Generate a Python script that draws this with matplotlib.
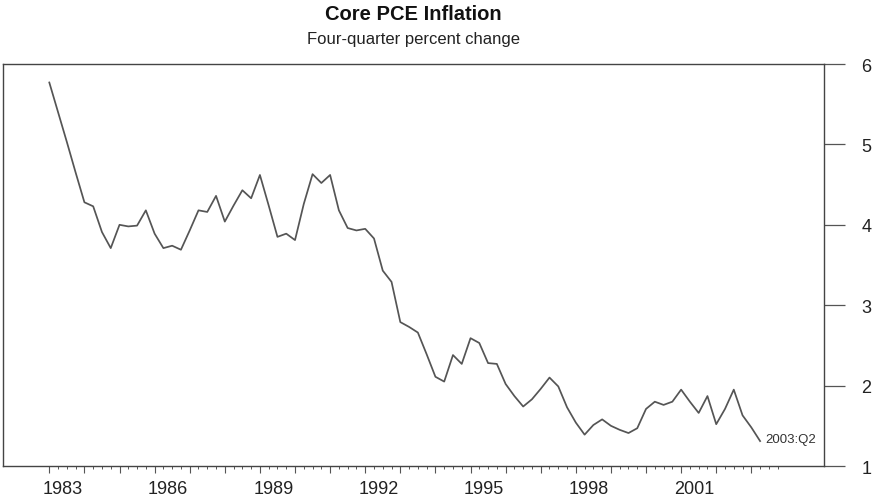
"""
Core PCE inflation, four-quarter percent change, 1983:Q1 - 2003:Q2
"""
import numpy as np
import matplotlib
matplotlib.use("Agg")
import matplotlib.pyplot as plt
from matplotlib.ticker import FixedLocator, NullFormatter

plt.rcParams['font.family'] = ['Liberation Sans', 'DejaVu Sans']

# Quarterly values, starting 1983:Q1
start_year = 1983
pce = [5.77, 5.40, 5.03, 4.65, 4.28, 4.23, 3.91, 3.71, 4.00, 3.98,
       3.99, 4.18, 3.89, 3.71, 3.74, 3.69, 3.93, 4.18, 4.16, 4.36,
       4.04, 4.24, 4.43, 4.33, 4.62, 4.24, 3.85, 3.89, 3.81, 4.26,
       4.63, 4.52, 4.62, 4.18, 3.96, 3.93, 3.95, 3.83, 3.43, 3.29,
       2.79, 2.73, 2.66, 2.39, 2.11, 2.05, 2.38, 2.27, 2.59, 2.53,
       2.28, 2.27, 2.02, 1.87, 1.74, 1.83, 1.96, 2.10, 1.99, 1.73,
       1.54, 1.39, 1.51, 1.58, 1.50, 1.45, 1.41, 1.47, 1.71, 1.80,
       1.76, 1.80, 1.95, 1.80, 1.66, 1.87, 1.52, 1.71, 1.95, 1.63,
       1.48, 1.31]
year_labels = [1983, 1986, 1989, 1992, 1995, 1998, 2001]
y_ticks = [1, 2, 3, 4, 5, 6]
last_label = "2003:Q2"

t = start_year + np.arange(len(pce)) / 4.0

fig = plt.figure(figsize=(8.75, 5.02), dpi=100)
ax = fig.add_axes([0.0034, 0.0697, 0.9383, 0.8008])

ax.plot(t, pce, color='#555555', lw=1.25)
ax.text(t[-1] + 0.15, pce[-1] + 0.03, last_label, fontsize=9.5,
        color='#333333', ha='left', va='center')

ax.set_xlim(1981.68, 2005.07)
ax.set_ylim(1, 6)

# y axis on the right, long outward ticks
ax.yaxis.tick_right()
ax.set_yticks(y_ticks)
ax.tick_params(axis='y', direction='out', length=15, width=0.9,
               color='#555555', pad=12, labelsize=13, labelcolor='#222222')

# x axis: year ticks and quarter ticks, labels centred inside the year
years = np.arange(start_year, 2004)
quarters = start_year + np.arange(0, 84) / 4.0
ax.xaxis.set_major_locator(FixedLocator(years))
ax.xaxis.set_minor_locator(FixedLocator(quarters))
ax.xaxis.set_major_formatter(NullFormatter())
ax.tick_params(axis='x', which='major', direction='out', length=5,
               width=0.8, color='#555555')
ax.tick_params(axis='x', which='minor', direction='out', length=2.5,
               width=0.7, color='#555555')
for yr in year_labels:
    ax.text(yr + 0.38, -0.035, str(yr), transform=ax.get_xaxis_transform(),
            ha='center', va='top', fontsize=13, color='#222222')

for s in ax.spines.values():
    s.set_color('#444444')
    s.set_linewidth(1.0)

fig.text(0.4726, 0.972, "Core PCE Inflation", ha='center', va='center',
         fontsize=14.5, fontweight='bold', color='#111111')
fig.text(0.4726, 0.922, "Four-quarter percent change", ha='center',
         va='center', fontsize=12, color='#222222')

fig.savefig("out.png", dpi=100)
